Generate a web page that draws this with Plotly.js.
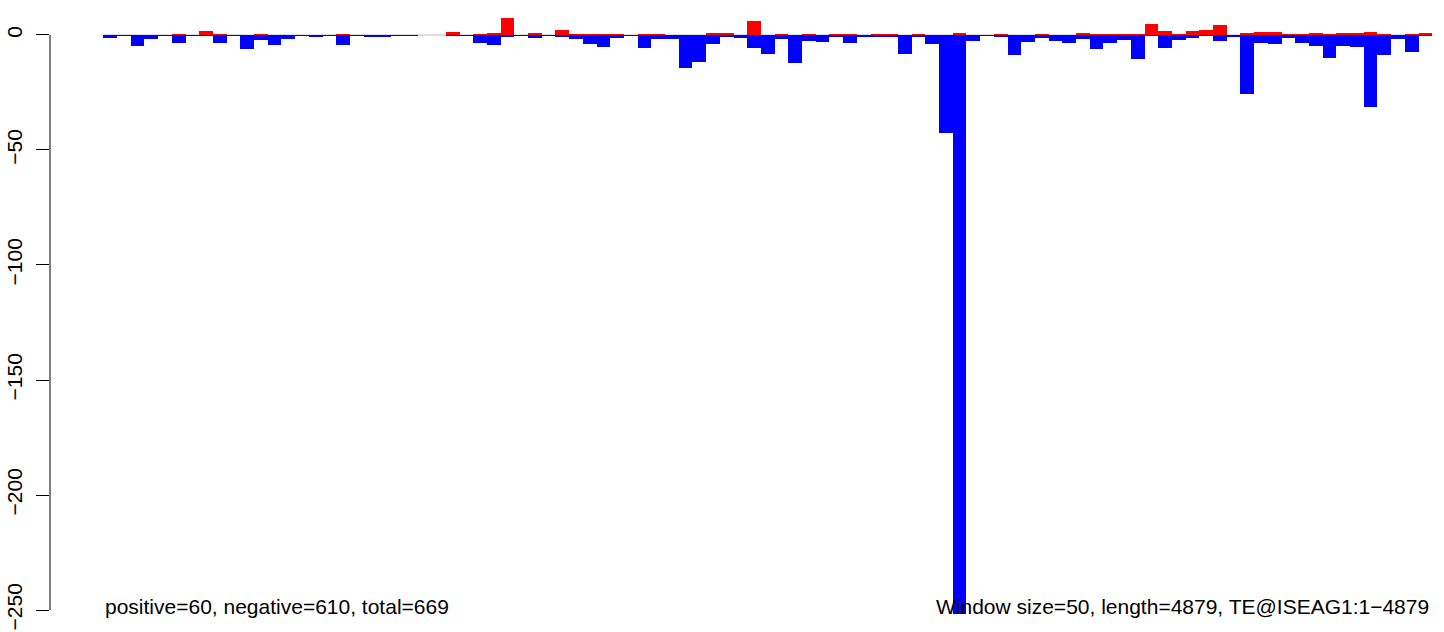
<!DOCTYPE html>
<html>
<head>
<meta charset="utf-8">
<script src="https://cdn.plot.ly/plotly-3.0.1.min.js"></script>
<style>html,body{margin:0;padding:0;background:#fff;}#chart{width:1444px;height:632px;}</style>
</head>
<body>
<div id="chart"></div>
<script>
// Per-window values (window size 50)
const positiveValues = [
  0, 0, 0, 0, 0, 0.4, 0, 1.7, 0.4, 0,
  0, 0.4, 0, 0, 0, 0, 0, 0.4, 0, 0,
  0, 0, 0, 0, 0, 1.3, 0, 0.4, 0.9, 7.4,
  0, 0.9, 0, 2.2, 0.4, 0.4, 0.4, 0.4, 0, 0.5,
  0.4, 0, 0, 0, 0.9, 0.9, 0, 6.1, 0, 0.4,
  0, 0.4, 0, 0.4, 0.4, 0, 0.4, 0.4, 0, 0.4,
  0, 0, 0.9, 0, 0, 0.4, 0, 0, 0.4, 0,
  0, 0.9, 0.4, 0.4, 0.4, 0.4, 4.8, 1.7, 0.4, 1.7,
  2.2, 4.3, 0, 0.9, 1.3, 1.3, 0.4, 0.4, 0.9, 0.4,
  0.9, 0.9, 1.3, 0.4, 0, 0.4, 0.9
];
const negativeValues = [
  -1.2, -0.5, -4.6, -1.6, -0.5, -3.5, -0.5, -0.5, -3.5, -0.5,
  -5.9, -2.2, -4.2, -1.6, -0.5, -0.7, -0.3, -4.2, -0.3, -0.7,
  -0.7, -0.3, -0.3, 0, 0, -0.3, -0.3, -3.5, -4.3, -0.7,
  -0.3, -1.2, -0.3, -0.7, -1.6, -3.8, -5.1, -1.2, -0.5, -5.5,
  -1.6, -1.6, -14.2, -11.6, -3.8, -0.7, -1.2, -5.5, -8.1, -1.6,
  -12.0, -2.5, -2.9, -0.7, -3.5, -0.7, -0.7, -0.7, -8.1, -0.7,
  -3.8, -42.5, -265, -2.5, -0.4, -0.7, -8.9, -2.9, -1.2, -2.5,
  -3.5, -1.6, -5.9, -3.3, -2.2, -10.3, -0.4, -5.5, -2.2, -1.2,
  -0.4, -2.5, -0.7, -25.6, -3.3, -3.8, -1.2, -3.3, -4.6, -9.9,
  -4.6, -5.1, -31.3, -8.5, -1.6, -7.2, -0.4
];
const yTickValues = [0, -50, -100, -150, -200, -250];
const leftNote = "positive=60, negative=610, total=669";
const rightNote = "Window size=50, length=4879, TE@ISEAG1:1\u22124879";

const windowIndex = negativeValues.map((_, i) => i);
const FONT = '"Liberation Sans", Arial, Helvetica, sans-serif';

const traces = [
  {type: 'bar', x: windowIndex, y: negativeValues, width: 1,
   marker: {color: '#0000FF', line: {width: 0}}, hoverinfo: 'skip'},
  {type: 'bar', x: windowIndex, y: positiveValues, width: 1,
   marker: {color: '#FF0000', line: {width: 0}}, hoverinfo: 'skip'}
];

const n = negativeValues.length;
const layout = {
  width: 1444, height: 632,
  margin: {l: 50, r: 0, t: 5, b: 18, pad: 0},
  paper_bgcolor: '#fff', plot_bgcolor: '#fff',
  showlegend: false,
  barmode: 'overlay', bargap: 0,
  font: {family: FONT, size: 21, color: '#000'},
  xaxis: {range: [-4.39, 97.36], visible: false, fixedrange: true},
  yaxis: {
    range: [-251.74, 13.04],
    tickvals: yTickValues,
    tickangle: -90,
    ticks: 'outside', ticklen: 13, tickwidth: 1, tickcolor: '#000',
    ticklabelstandoff: 6,
    showgrid: false, zeroline: false, showline: false,
    tickfont: {family: FONT, size: 21, color: '#000'},
    fixedrange: true
  },
  shapes: [
    {type: 'line', xref: 'x', yref: 'y', x0: -0.5, x1: n - 0.5, y0: 0, y1: 0,
     line: {color: '#BEBEBE', width: 1}, layer: 'below'},
    {type: 'line', xref: 'paper', yref: 'y', x0: 0, x1: 0,
     y0: yTickValues[0], y1: yTickValues[yTickValues.length - 1],
     line: {color: '#000', width: 1}, layer: 'above'}
  ],
  annotations: [
    {text: leftNote, xref: 'x', yref: 'y', x: -0.5, y: -248.3,
     xanchor: 'left', yanchor: 'middle', showarrow: false,
     font: {family: FONT, size: 21, color: '#000'}},
    {text: rightNote, xref: 'x', yref: 'y', x: n - 0.6, y: -248.3,
     xanchor: 'right', yanchor: 'middle', showarrow: false,
     font: {family: FONT, size: 21, color: '#000'}}
  ]
};

Plotly.newPlot('chart', traces, layout, {staticPlot: true, displayModeBar: false});
</script>
</body>
</html>
